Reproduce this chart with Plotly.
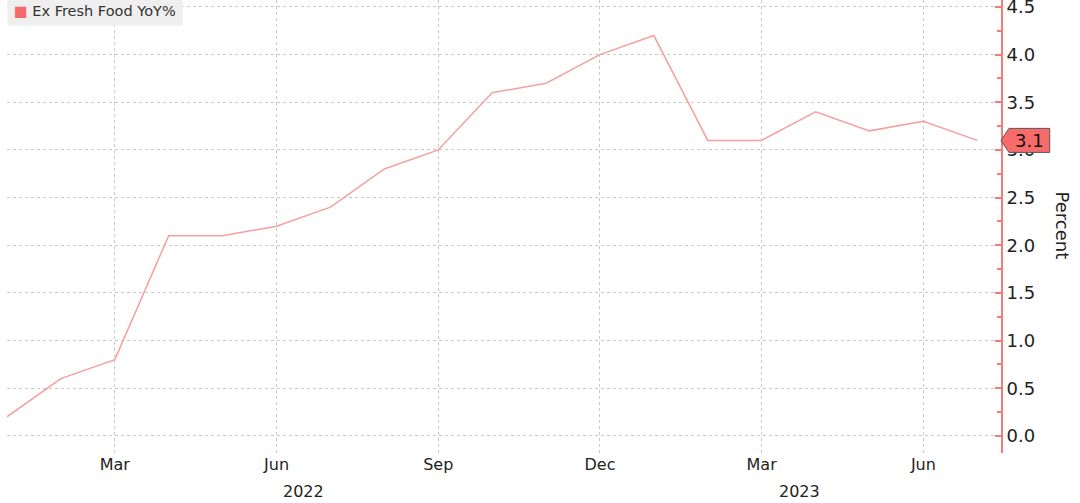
import plotly.graph_objects as go

# monthly index: 0 = Jan 2022 ... 18 = Jul 2023
month_idx = list(range(19))
month_names = ["Jan 2022", "Feb 2022", "Mar 2022", "Apr 2022", "May 2022", "Jun 2022",
               "Jul 2022", "Aug 2022", "Sep 2022", "Oct 2022", "Nov 2022", "Dec 2022",
               "Jan 2023", "Feb 2023", "Mar 2023", "Apr 2023", "May 2023", "Jun 2023",
               "Jul 2023"]
ex_fresh_food = [0.2, 0.6, 0.8, 2.1, 2.1, 2.2, 2.4, 2.8, 3.0, 3.6, 3.7, 4.0,
                 4.2, 3.1, 3.1, 3.4, 3.2, 3.3, 3.1]

tick_pos = [2, 5, 8, 11, 14, 17]
tick_text = ["Mar", "Jun", "Sep", "Dec", "Mar", "Jun"]
year_labels = ["2022", "2023"]
year_pos = [5.5, 14.7]

FONT = "DejaVu Sans"
line_col = "#f4a0a0"
axis_col = "#f27b7b"
grid_col = "#c9c9c9"

fig = go.Figure()
fig.add_trace(go.Scatter(
    x=month_idx, y=ex_fresh_food, mode="lines",
    name="Ex Fresh Food YoY%", text=month_names,
    line=dict(color=line_col, width=1.5),
    hovertemplate="%{text}: %{y:.1f}<extra></extra>",
))

fig.update_layout(
    width=1080, height=503,
    margin=dict(l=7, r=79, t=0, b=50),
    paper_bgcolor="white", plot_bgcolor="white",
    showlegend=False,
    font=dict(family=FONT, size=16, color="#222"),
    xaxis=dict(
        range=[0, 18.44], tickmode="array", tickvals=tick_pos, ticktext=tick_text,
        showgrid=True, gridcolor=grid_col, griddash="dot", gridwidth=1,
        zeroline=False, showline=False, ticks="", automargin=False,
        tickfont=dict(size=16, family=FONT),
    ),
    yaxis=dict(
        side="right", range=[-0.18, 4.573], dtick=0.5, tick0=0, tickformat=".1f",
        showgrid=True, gridcolor=grid_col, griddash="dot", gridwidth=1,
        zeroline=False, showline=True, linecolor=axis_col, linewidth=2,
        ticks="inside", ticklen=6, tickwidth=2, tickcolor=axis_col,
        minor=dict(dtick=0.25, ticks="inside", ticklen=4, tickcolor=axis_col, showgrid=False),
        automargin=False, ticklabeloverflow="allow",
        tickfont=dict(size=18, family=FONT, color="#222"),
    ),
)

ann = []
for lab, pos in zip(year_labels, year_pos):
    ann.append(dict(x=pos, y=-0.085, xref="x", yref="paper", text=lab, showarrow=False,
                    xanchor="center", yanchor="middle",
                    font=dict(size=16, family=FONT, color="#222")))

# axis title reading top-to-bottom
ann.append(dict(x=1.062, y=0.503, xref="paper", yref="paper", text="Percent",
                xanchor="center", yanchor="middle",
                textangle=90, showarrow=False, font=dict(size=18, family=FONT, color="#222")))

# legend box
ann.append(dict(x=0, y=1.008, xref="paper", yref="paper", xanchor="left", yanchor="top",
                text="<span style='color:#f46a6a'>■</span> Ex Fresh Food YoY%",
                showarrow=False, bgcolor="#efefef", borderpad=6,
                font=dict(size=14.5, family=FONT, color="#333")))

# last value tag on the axis
last = ex_fresh_food[-1]
h = 0.126
fig.add_shape(type="path", xref="paper", yref="y", layer="above",
              path=f"M 1.0,{last} L 1.008,{last + h} L 1.049,{last + h} "
                   f"L 1.049,{last - h} L 1.008,{last - h} Z",
              fillcolor="#f76b6b", line=dict(color="#555", width=1))
ann.append(dict(x=1.029, y=last, xref="paper", yref="y", text=f"{last:.1f}",
                xanchor="center", yanchor="middle",
                showarrow=False, font=dict(size=18, family=FONT, color="#111")))

ann.append(dict(x=1.0, y=-0.13, xref="paper", yref="paper", xanchor="right", yanchor="top",
                text="Bloomberg Finance L.P.", showarrow=False,
                font=dict(size=14, family=FONT, color="#555")))

fig.update_layout(annotations=ann)
fig.write_html("out.html", config={"displayModeBar": False},
               post_script="document.body.style.margin='0';document.body.style.overflow='hidden';")
